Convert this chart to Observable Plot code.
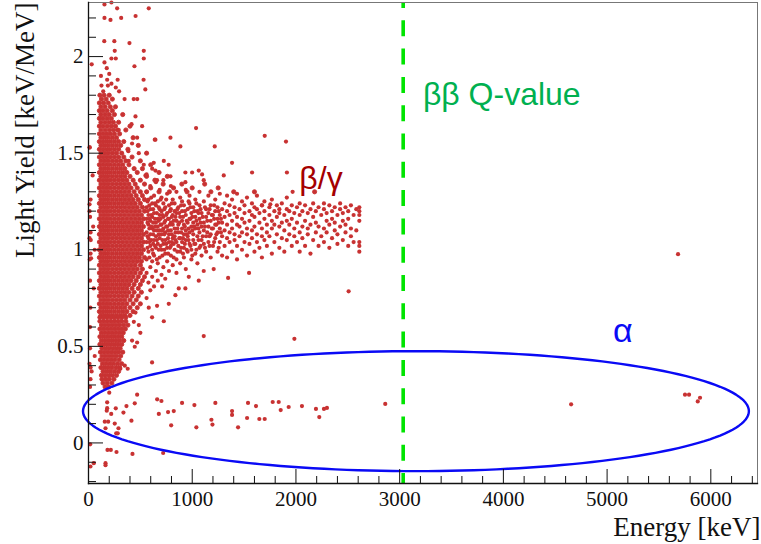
<!DOCTYPE html>
<html><head><meta charset="utf-8">
<script src="https://cdn.jsdelivr.net/npm/d3@7"></script>
<script src="https://cdn.jsdelivr.net/npm/@observablehq/plot@0.6"></script>
<style>body{margin:0;background:#fff}svg{display:block}</style>
</head><body><div id="chart"></div>
<script>
// dense beta/gamma core: each row = [light yield, energies (keV)...]
const betaRows = [
[1.80,110,150,200],[1.78,125,170,230],[1.76,105,145,190],[1.74,120,160,210,260],
[1.72,105,140,180,230],[1.70,120,160,200,250,330],[1.68,105,140,180,220],
[1.66,120,160,200,240,290],[1.64,105,140,180,220,260,400],[1.62,120,160,200,240,280,360],
[1.60,105,140,175,210,250,300],[1.58,120,155,190,230,270,430],[1.56,105,140,175,210,250,290,340],
[1.54,120,155,190,230,270,310,480],[1.52,105,140,175,210,250,290,380],[1.50,120,155,190,230,270,320,560],
[1.48,105,140,175,210,250,290,340,420],[1.46,120,155,190,230,270,310,360,500],
[1.44,105,140,175,210,250,290,330,390,600],[1.42,120,155,190,230,270,310,350,440,520],
[1.40,105,140,175,210,250,290,330,370,470,680],[1.38,120,155,190,230,270,310,350,400,560,760],
[1.36,105,140,175,210,250,290,330,370,430,500,640],
[1.34,120,155,190,230,270,310,350,390,450,540,720,900,1120],
[1.32,105,140,175,210,250,290,330,370,410,470,600,820,1000,1250],
[1.30,120,155,190,230,270,310,350,390,440,500,560,680,780,950,1180,1400,1600,2180],
[1.28,105,140,175,210,250,290,330,370,410,460,520],
[1.26,120,155,190,230,270,310,350,390,430,480,540],
[1.24,105,140,175,210,250,290,330,370,410,450,500],
[1.22,120,155,190,230,270,310,350,390,430,470,520],
[1.20,105,140,175,210,250,290,330,370,410,450,490,540],
[1.18,120,155,190,230,270,310,350,390,430,470,510],
[1.16,105,140,175,210,250,290,330,370,410,450,490,530],
[1.14,120,155,190,230,270,310,350,390,430,470,510],
[1.12,105,140,175,210,250,290,330,370,410,450,490,530],
[1.10,120,155,190,230,270,310,350,390,430,470,510],
[1.08,105,140,175,210,250,290,330,370,410,450,490,530],
[1.06,120,155,190,230,270,310,350,390,430,470,510],
[1.04,105,140,175,210,250,290,330,370,410,450,490,530],
[1.02,120,155,190,230,270,310,350,390,430,470,510],
[1.00,105,140,175,210,250,290,330,370,410,450,490,530],
[0.98,120,155,190,230,270,310,350,390,430,470,510],
[0.96,105,140,175,210,250,290,330,370,410,450,490,540],
[0.94,120,155,190,230,270,310,350,390,430,470,510],
[0.92,105,140,175,210,250,290,330,370,410,450,500],
[0.90,120,155,190,230,270,310,350,390,430,470,520],
[0.88,105,140,175,210,250,290,330,370,410,450,500],
[0.86,120,155,190,230,270,310,350,390,430,480,540],
[0.84,105,140,175,210,250,290,330,370,410,460,520],
[0.82,120,155,190,230,270,310,350,390,440,500],
[0.80,105,140,175,210,250,290,330,370,420,480],
[0.78,120,155,190,230,270,310,350,390,440,510],
[0.76,105,140,175,210,250,290,330,370,420,480],
[0.74,120,155,190,230,270,310,350,400,460],
[0.72,105,140,175,210,250,290,330,370,430,500],
[0.70,120,155,190,230,270,310,350,400,470],
[0.68,105,140,175,210,250,290,330,370,430],
[0.66,120,155,190,230,270,310,350,400],
[0.65,110,145,180,215,250,285,320,360],
[0.63,110,145,180,215,250,285,320,360],
[0.61,125,160,195,230,265,300,340,380],
[0.59,110,145,180,215,250,285,320,355],
[0.57,125,160,195,230,265,300,335],
[0.55,110,145,180,215,250,285,320],
[0.53,125,160,195,230,265,300,340],
[0.51,110,145,180,215,250,285,320],
[0.49,130,165,200,235,270,305],
[0.47,115,150,185,220,255,290,330],
[0.45,130,165,200,235,270,310],
[0.43,115,150,185,220,255,295],
[0.41,135,170,205,240,280,320],
[0.39,120,155,190,225,265,300],
[0.37,140,175,210,250,290],
[0.35,125,160,195,230,270],
[0.33,130,165,200,245],
[0.31,140,180,225],
[0.29,160,195]
];
// beta/gamma band tail: each column = [energy keV, light yields...]
const bandCols = [
[560,0.75,0.88,0.95,1.04,1.09,1.16,1.22,1.30,1.39],[578,0.83,0.99,1.06,1.13,1.18,1.26],
[596,0.79,0.91,1.02,1.08,1.15,1.21,1.33],[614,0.86,0.94,1.00,1.11,1.17,1.24,1.42],
[632,0.81,0.97,1.05,1.10,1.19,1.28],[650,0.89,1.01,1.07,1.14,1.23,1.35],
[668,0.84,0.93,1.03,1.12,1.16,1.25],[686,0.96,1.06,1.10,1.18,1.21,1.31],
[704,0.87,1.00,1.08,1.13,1.20,1.27],[722,0.91,1.03,1.11,1.17,1.24,1.36],
[740,0.85,0.98,1.05,1.09,1.15,1.22],[758,0.94,1.01,1.12,1.19,1.29],
[776,0.89,1.04,1.08,1.16,1.23],[794,0.97,1.02,1.10,1.14,1.21,1.33],
[812,0.92,1.06,1.13,1.18,1.26],[830,1.00,1.07,1.11,1.20,1.24],
[848,0.88,0.95,1.04,1.15,1.19,1.30],[866,1.02,1.09,1.13,1.22],
[884,0.93,0.99,1.06,1.17,1.27],[902,1.04,1.11,1.15,1.20,1.25],
[920,0.96,1.01,1.08,1.13,1.23],[938,0.90,1.05,1.10,1.18,1.31],
[956,0.99,1.07,1.14,1.21],[974,1.03,1.09,1.16,1.24,1.28],
[992,0.95,1.00,1.12,1.19],[1010,1.05,1.08,1.14,1.22],
[1030,0.98,1.03,1.11,1.17,1.26],[1050,0.93,1.07,1.13,1.20],
[1070,1.01,1.09,1.16,1.23,1.30],[1090,0.97,1.05,1.12,1.19],
[1112,1.03,1.10,1.14,1.25],[1134,0.99,1.07,1.17,1.21],
[1156,1.04,1.12,1.19,1.28],[1178,0.96,1.08,1.15,1.23],
[1200,1.02,1.11,1.18],[1222,1.06,1.13,1.20,1.26],
[1244,0.99,1.09,1.16,1.22],[1266,1.04,1.11,1.18,1.29],[1288,0.97,1.07,1.14,1.21],
[569,1.01,1.07,1.14,1.20,1.25],[587,0.96,1.04,1.11,1.16,1.23],[605,1.05,1.12,1.18,1.27],
[623,0.98,1.03,1.08,1.14,1.21],[641,1.02,1.12,1.16,1.24],[659,0.95,1.05,1.10,1.19],
[677,1.00,1.08,1.15,1.22],[695,1.02,1.13,1.16,1.26],[713,0.97,1.05,1.10,1.18],
[731,1.00,1.08,1.14,1.21],[749,1.03,1.12,1.18,1.26],[767,0.98,1.06,1.10,1.16],
[785,1.01,1.13,1.20],[803,1.04,1.08,1.17,1.24],[821,0.96,1.03,1.15],
[839,1.05,1.09,1.17],[857,0.99,1.11,1.21],[875,1.06,1.14,1.19],
[893,1.01,1.09,1.23],[911,0.98,1.06,1.17],[929,1.03,1.12,1.20],
[947,1.00,1.08,1.15],[965,1.05,1.11,1.25],[983,1.02,1.16,1.22],
[1001,0.97,1.10,1.17],[1020,1.03,1.12,1.20],[1040,1.00,1.15,1.24],
[1060,1.05,1.11,1.19],[1080,1.02,1.14,1.21],[1101,1.07,1.17],
[1123,1.01,1.12,1.22],[1145,1.09,1.15],[1167,1.02,1.07,1.21],
[1189,1.11,1.18],[1211,1.04,1.16,1.23],[1233,1.08,1.13],
[1255,1.01,1.14,1.20],[1277,1.09,1.16],
[1312,1.02,1.10,1.17,1.24],[1336,0.96,1.06,1.13,1.20,1.28],[1360,1.04,1.09,1.18,1.23],
[1384,0.99,1.11,1.15,1.26],[1408,1.05,1.08,1.19,1.22],[1432,0.95,1.02,1.13,1.17,1.29],
[1456,1.07,1.12,1.21],[1480,1.00,1.09,1.16,1.25],[1504,1.04,1.14,1.19,1.23],
[1528,0.97,1.08,1.11,1.27],[1552,1.03,1.15,1.20],[1576,1.06,1.10,1.18,1.24],
[1600,0.99,1.12,1.17,1.22],[1624,1.04,1.08,1.21,1.28],[1648,1.01,1.14,1.19],
[1672,0.96,1.07,1.11,1.23],[1696,1.05,1.16,1.20,1.25],[1720,1.02,1.09,1.13],
[1744,1.07,1.18,1.22],[1768,0.98,1.11,1.15,1.26],[1792,1.04,1.13,1.20],
[1816,1.08,1.17,1.23],[1840,1.01,1.12,1.19,1.21],[1864,1.06,1.14,1.24],
[1888,0.99,1.10,1.18],[1912,1.05,1.15,1.21,1.27],[1936,1.08,1.13,1.20],
[1960,1.02,1.16,1.23],[1984,1.07,1.11,1.19],
[2010,1.04,1.14,1.22],[2036,0.99,1.09,1.18,1.24],[2062,1.06,1.12,1.20],
[2088,1.02,1.15,1.23],[2114,1.08,1.11,1.19],[2140,0.98,1.13,1.21],
[2166,1.05,1.17,1.24],[2192,1.09,1.14,1.20],[2218,1.02,1.12,1.22],
[2244,1.07,1.18],[2270,1.04,1.11,1.21,1.24],[2296,1.09,1.15,1.19],
[2322,1.01,1.13,1.23],[2348,1.06,1.16,1.20],[2374,1.10,1.14,1.22],
[2400,1.03,1.08,1.18],[2426,1.12,1.21,1.24],[2452,1.05,1.15,1.19],
[2478,1.09,1.13,1.22],[2504,1.02,1.16,1.20],[2530,1.07,1.11,1.23],
[2556,1.04,1.18],[2582,1.10,1.21],
[2611,0.99,1.02,1.04,1.15,1.18,1.20,1.22]
];
// isolated events [energy keV, light yield]
const outliers = [
[154,2.27],[221,2.28],[276,2.25],[581,2.25],[154,2.20],[212,2.19],[315,2.20],[454,2.21],
[152,2.08],[249,2.08],[395,2.07],[253,2.03],[533,2.03],[533,1.99],[31,1.96],[154,1.97],
[221,1.99],[263,1.99],[176,1.94],[443,1.95],[120,1.90],[200,1.91],[180,1.88],[125,1.85],
[187,1.85],[221,1.86],[281,1.88],[531,1.88],[142,1.82],[263,1.84],[295,1.82],[548,1.83],
[348,1.78],[436,1.78],[470,1.78],[10,1.53],[1037,1.63],[790,1.58],[645,1.57],[886,1.535],
[1217,1.535],[1699,1.59],[1904,1.56],[1384,1.45],[1577,1.40],[1913,1.40],[1968,1.30],
[726,1.46],[1095,1.39],[1304,1.385],[415,1.65],[453,1.69],[517,1.64],[469,1.58],[639,1.57],
[420,1.55],[384,1.51],[485,1.50],[388,1.46],[629,1.45],[533,1.44],[645,1.41],[773,1.44],
[790,1.38],[934,1.40],[999,1.40],[1063,1.41],[1111,1.36],[934,1.35],[661,1.36],[549,1.385],
[292,1.62],[1673,1.23],[1753,1.235],
[1111,0.553],[1985,0.539],[2508,0.785],[1346,0.854],[1548,0.88],[726,0.63],[613,0.65],
[774,0.72],[661,0.71],[500,0.57],[437,0.627],[485,0.61],[934,0.80],[870,0.80],[1063,0.84],
[1111,0.89],[1207,0.90],[967,0.86],[838,0.765],[710,0.81],[581,0.70],[453,0.675],[469,0.52],
[420,0.53],[613,0.417],[350,0.40],[378,0.384],[307,0.384],[446,0.498],[5684,0.977],
[10,1.20],[15,1.17],[10,1.06],[12,0.95],[15,0.84],[18,0.70],[15,0.60],[20,0.39],[15,0.29],
[20,1.09],[22,1.05],[20,0.98],[25,0.956],[15,0.49],[12,1.53],[40,1.385],[20,1.26],[10,1.235],
[30,0.37],[19,0.33],[10,0.41],[60,0.45],[50,0.80],[60,1.0],[45,1.12]
];
// alpha-like events
const alphaEvents = [
[469,0.25],[662,0.226],[703,0.217],[902,0.207],[1021,0.196],[1223,0.207],[1538,0.207],
[1615,0.191],[1776,0.212],[1834,0.212],[1853,0.170],[1930,0.186],[2058,0.191],[2193,0.176],
[2270,0.176],[2299,0.181],[2225,0.134],[2861,0.202],[678,0.150],[767,0.160],[822,0.165],
[1384,0.165],[1384,0.145],[1529,0.129],[1647,0.124],[1699,0.124],[1185,0.120],[1195,0.095],
[1442,0.081],[1040,0.081],[797,0.091],[414,0.115],[446,0.205],[366,0.191],[337,0.157],
[263,0.179],[219,0.150],[176,0.167],[157,0.110],[190,0.110],[253,0.100],[289,0.076],
[267,0.050],[282,0.050],[164,0.076],[183,-0.036],[215,-0.036],[270,-0.047],[424,-0.057],
[720,-0.052],[164,-0.105],[164,-0.115],[51,-0.105],[19,-0.122],[16,-0.007],[180,0.21],
[200,0.26],[180,0.18],[4653,0.20],[5751,0.25],[5790,0.25],[5896,0.234],[5874,0.215]
];
const qValue = 3034;
const alphaRegion = {cx: 3157, cy: 0.1645, rx: 3210, ry: 0.3105};
const xTicks = [0,1000,2000,3000,4000,5000,6000];
const xMinor = [200,400,600,800,1200,1400,1600,1800,2200,2400,2600,2800,3200,3400,3600,3800,4200,4400,4600,4800,5200,5400,5600,5800,6200,6400];
const yTicks = [0,0.5,1,1.5,2];
const yMinor = [-0.2,-0.1,0.1,0.2,0.3,0.4,0.6,0.7,0.8,0.9,1.1,1.2,1.3,1.4,1.6,1.7,1.8,1.9,2.1,2.2];

const corePts = betaRows.flatMap(([y, ...xs]) => xs.map(x => ({x, y})));
const otherPts = bandCols.flatMap(([x, ...ys]) => ys.map(y => ({x, y})))
  .concat(outliers.map(([x, y]) => ({x, y})))
  .concat(alphaEvents.map(([x, y]) => ({x, y})));
const ell = d3.range(0, 361, 2).map(a => ({
  x: alphaRegion.cx + alphaRegion.rx * Math.cos(a * Math.PI / 180),
  y: alphaRegion.cy + alphaRegion.ry * Math.sin(a * Math.PI / 180)
}));

const W = 761, H = 544, mL = 88, mT = 2, mR = 4, mB = 61;
const pw = W - mL - mR, ph = H - mT - mB;
const serif = "'Liberation Serif','Times New Roman',serif";
const sans = "'Liberation Sans',Arial,sans-serif";
const red = "#c83232";

const chart = Plot.plot({
  width: W, height: H, marginLeft: mL, marginTop: mT, marginRight: mR, marginBottom: mB,
  style: {fontFamily: serif, background: "#fff", color: "#111"},
  x: {domain: [0, 6450]},
  y: {domain: [-0.21, 2.28]},
  marks: [
    Plot.dot(corePts, {x: "x", y: "y", r: 2.1, fill: red, stroke: red, strokeWidth: 0.9}),
    Plot.dot(otherPts, {x: "x", y: "y", r: 2.1, fill: red, stroke: "none"}),
    Plot.line(ell, {x: "x", y: "y", stroke: "#0a0af5", strokeWidth: 2.4, curve: "linear"}),
    Plot.ruleX([qValue], {stroke: "#00e400", strokeWidth: 3.6, strokeDasharray: "16,12.3", strokeDashoffset: 10}),
    Plot.frame({stroke: "#777", strokeWidth: 1}),
    Plot.frame({anchor: "left", stroke: "#111", strokeWidth: 1.3}),
    Plot.frame({anchor: "bottom", stroke: "#111", strokeWidth: 1.3}),
    Plot.tickY(yTicks, {y: d => d, insetRight: pw - 15, stroke: "#111"}),
    Plot.tickY(yMinor, {y: d => d, insetRight: pw - 8, stroke: "#111"}),
    Plot.tickX(xTicks, {x: d => d, insetTop: ph - 14, stroke: "#111"}),
    Plot.tickX(xMinor, {x: d => d, insetTop: ph - 7, stroke: "#111"}),
    Plot.axisX({ticks: xTicks, tickSize: 0, tickPadding: 8, tickFormat: d => String(d), fontSize: 21, label: null}),
    Plot.axisY({ticks: yTicks, tickSize: 0, tickPadding: 5, tickFormat: d => String(d), fontSize: 21, label: null}),
    Plot.text(["Energy [keV]"], {frameAnchor: "bottom-right", dx: 3, dy: 44, textAnchor: "end", lineAnchor: "middle", fontSize: 27, fontFamily: serif, fill: "#111"}),
    Plot.text(["Light Yield [keV/MeV]"], {frameAnchor: "top-left", dx: -63, dy: 0, rotate: -90, textAnchor: "end", lineAnchor: "middle", fontSize: 27, fontFamily: serif, fill: "#111"}),
    Plot.text(["ββ Q-value"], {x: [3224], y: [1.80], text: d => d, textAnchor: "start", lineAnchor: "middle", fontSize: 32, fontFamily: sans, fill: "#00b050"}),
    Plot.text(["β/γ"], {x: [2033], y: [1.37], text: d => d, textAnchor: "start", lineAnchor: "middle", fontSize: 32, fontFamily: sans, fill: "#a50000"}),
    Plot.text(["α"], {x: [5058], y: [0.58], text: d => d, textAnchor: "start", lineAnchor: "middle", fontSize: 34, fontFamily: sans, fill: "#0a0af5"})
  ]
});
document.getElementById("chart").appendChild(chart);
</script>
</body></html>
